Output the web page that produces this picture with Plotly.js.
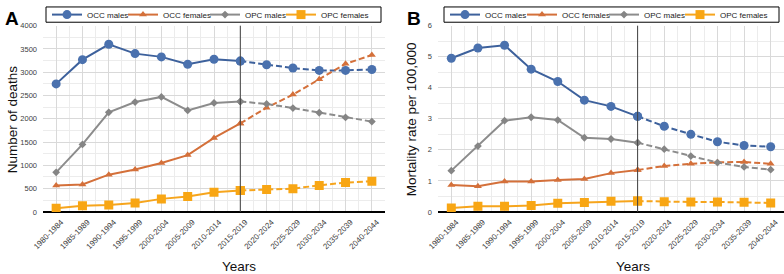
<!DOCTYPE html>
<html>
<head>
<meta charset="utf-8">
<script src="https://cdn.plot.ly/plotly-3.0.1.min.js"></script>
<style>html,body{margin:0;padding:0;background:#fff;}#chart{width:784px;height:274px;}</style>
</head>
<body>
<div id="chart"></div>
<script>
// ---- data ----
const categories = ['1980-1984','1985-1989','1990-1994','1995-1999','2000-2004','2005-2009','2010-2014','2015-2019','2020-2024','2025-2029','2030-2034','2035-2039','2040-2044'];
const splitCategory = '2015-2019';
const seriesNames = ['OCC males','OCC females','OPC males','OPC females'];

// Panel A: number of deaths
const deathsOccMales   = [2750, 3270, 3600, 3400, 3330, 3170, 3280, 3240, 3160, 3090, 3040, 3040, 3060];
const deathsOccFemales = [570, 590, 800, 910, 1050, 1220, 1590, 1900, 2240, 2520, 2850, 3180, 3370];
const deathsOpcMales   = [850, 1450, 2140, 2360, 2470, 2180, 2340, 2370, 2320, 2230, 2130, 2030, 1940];
const deathsOpcFemales = [80, 130, 150, 190, 280, 330, 420, 460, 480, 500, 570, 630, 660];

// Panel B: mortality rate per 100,000
const rateOccMales   = [4.95, 5.28, 5.37, 4.6, 4.2, 3.6, 3.4, 3.08, 2.76, 2.5, 2.26, 2.14, 2.1];
const rateOccFemales = [0.87, 0.83, 0.98, 0.98, 1.03, 1.06, 1.25, 1.35, 1.48, 1.55, 1.6, 1.61, 1.55];
const rateOpcMales   = [1.33, 2.12, 2.94, 3.05, 2.96, 2.39, 2.35, 2.23, 2.02, 1.8, 1.59, 1.45, 1.36];
const rateOpcFemales = [0.13, 0.18, 0.18, 0.21, 0.28, 0.3, 0.34, 0.35, 0.33, 0.32, 0.32, 0.31, 0.29];

// ---- styles ----
const styles = [
  {line: '#3d619c', marker: '#4a71ae', symbol: 'circle', size: 9},
  {line: '#d4703a', marker: '#d4703a', symbol: 'triangle-up', size: 7},
  {line: '#8c8c8c', marker: '#858585', symbol: 'diamond', size: 6},
  {line: '#f6a51d', marker: '#f8a614', symbol: 'square', size: 9}
];

const W = 784, H = 274;
const xIdx = categories.map((c, i) => i);
const splitIdx = categories.indexOf(splitCategory);

// legend text start positions (px) per panel
const legendTextX = [[87, 163, 245, 321], [485, 562, 644, 720]];

function legendId(panel, s) {
  const n = panel * 4 + s + 1;
  return n === 1 ? 'legend' : 'legend' + n;
}

function panelTraces(valuesList, xa, ya, panel) {
  const out = [];
  valuesList.forEach((vals, s) => {
    const st = styles[s];
    const common = {
      type: 'scatter', mode: 'lines+markers', xaxis: xa, yaxis: ya,
      marker: {symbol: st.symbol, size: st.size, color: st.marker},
      legend: legendId(panel, s), name: seriesNames[s],
      hoverinfo: 'skip'
    };
    out.push(Object.assign({}, common, {
      x: xIdx.slice(0, splitIdx + 1), y: vals.slice(0, splitIdx + 1),
      line: {color: st.line, width: 2}, showlegend: true
    }));
    out.push(Object.assign({}, common, {
      x: xIdx.slice(splitIdx), y: vals.slice(splitIdx),
      line: {color: st.line, width: 2, dash: '6px,3px'}, showlegend: false
    }));
  });
  return out;
}

const traces = [].concat(
  panelTraces([deathsOccMales, deathsOccFemales, deathsOpcMales, deathsOpcFemales], 'x', 'y', 0),
  panelTraces([rateOccMales, rateOccFemales, rateOpcMales, rateOpcFemales], 'x2', 'y2', 1)
);

const yDom = [(H - 211) / H, (H - 22) / H];
const gridMajor = '#d9d9d9', gridMinor = '#ececec';
const fam = 'Liberation Sans, Arial, sans-serif';
const tickFont = {family: fam, size: 7.5, color: '#404040'};
const xTickFont = {family: fam, size: 8, color: '#404040'};

function xAxis(domain, anchor) {
  return {
    domain: domain, anchor: anchor, range: [-0.5, 12.5],
    tickmode: 'array', tickvals: xIdx, ticktext: categories, tickangle: -45,
    tickfont: xTickFont, ticklabelshift: 5, ticklabelstandoff: 3,
    showgrid: true, gridcolor: gridMajor, gridwidth: 1,
    minor: {tickmode: 'linear', tick0: -0.5, dtick: 1, showgrid: true, gridcolor: gridMinor},
    zeroline: false, showline: false, ticks: '', fixedrange: true
  };
}
function yAxis(domain, anchor, range, dtick, minorDtick) {
  return {
    domain: domain, anchor: anchor, range: range, dtick: dtick,
    tickfont: tickFont, showgrid: true, gridcolor: gridMajor,
    minor: {dtick: minorDtick, showgrid: true, gridcolor: gridMinor},
    zeroline: true, zerolinecolor: '#000000', zerolinewidth: 2.5,
    ticks: '', ticklabelstandoff: 5, showline: false, fixedrange: true
  };
}

const layout = {
  width: W, height: H, margin: {l: 0, r: 0, t: 0, b: 0},
  paper_bgcolor: '#ffffff', plot_bgcolor: '#ffffff', showlegend: true,
  xaxis: xAxis([43 / W, 385 / W], 'y'),
  yaxis: yAxis(yDom, 'x', [0, 4000], 500, 250),
  xaxis2: xAxis([438 / W, 784 / W], 'y2'),
  yaxis2: yAxis(yDom, 'x2', [0, 6], 1, 0.5),
  shapes: [
    {type: 'line', xref: 'x', yref: 'y domain', x0: splitIdx, x1: splitIdx, y0: 0, y1: 1, line: {color: '#404040', width: 1}},
    {type: 'line', xref: 'x2', yref: 'y2 domain', x0: splitIdx, x1: splitIdx, y0: 0, y1: 1, line: {color: '#404040', width: 1}},
    {type: 'rect', xref: 'paper', yref: 'paper', x0: 46 / W, x1: 381 / W, y0: 1 - 18.5 / H, y1: 1 - 3 / H, line: {color: '#000', width: 1}, fillcolor: '#ffffff', layer: 'above'},
    {type: 'rect', xref: 'paper', yref: 'paper', x0: 444 / W, x1: 779 / W, y0: 1 - 18.5 / H, y1: 1 - 3 / H, line: {color: '#000', width: 1}, fillcolor: '#ffffff', layer: 'above'}
  ],
  annotations: [
    {text: '<b>A</b>', xref: 'paper', yref: 'paper', x: 3 / W, y: 1 - 2 / H, xanchor: 'left', yanchor: 'top', showarrow: false, font: {family: fam, size: 19, color: '#000'}},
    {text: '<b>B</b>', xref: 'paper', yref: 'paper', x: 405 / W, y: 1 - 2 / H, xanchor: 'left', yanchor: 'top', showarrow: false, font: {family: fam, size: 19, color: '#000'}},
    {text: 'Number of deaths', xref: 'paper', yref: 'paper', x: 12 / W, y: 1 - 117 / H, xanchor: 'center', yanchor: 'middle', textangle: -90, showarrow: false, font: {family: fam, size: 13.5, color: '#111'}},
    {text: 'Mortality rate per 100,000', xref: 'paper', yref: 'paper', x: 411 / W, y: 1 - 117 / H, xanchor: 'center', yanchor: 'middle', textangle: -90, showarrow: false, font: {family: fam, size: 13.5, color: '#111'}},
    {text: 'Years', xref: 'paper', yref: 'paper', x: 239 / W, y: 1 - 266 / H, xanchor: 'center', yanchor: 'middle', showarrow: false, font: {family: fam, size: 13.5, color: '#111'}},
    {text: 'Years', xref: 'paper', yref: 'paper', x: 633 / W, y: 1 - 266 / H, xanchor: 'center', yanchor: 'middle', showarrow: false, font: {family: fam, size: 13.5, color: '#111'}}
  ]
};

// one single-entry legend per series so each entry sits where the reference has it
for (let p = 0; p < 2; p++) {
  for (let s = 0; s < 4; s++) {
    layout[legendId(p, s)] = {
      orientation: 'h', xanchor: 'left', yanchor: 'middle',
      x: (legendTextX[p][s] - 40) / W, y: 1 - 10.75 / H,
      borderwidth: 0, bgcolor: 'rgba(0,0,0,0)', itemwidth: 30,
      font: {family: fam, size: 8, color: '#222'}
    };
  }
}

Plotly.newPlot('chart', traces, layout, {displayModeBar: false, staticPlot: true});
</script>
</body>
</html>
